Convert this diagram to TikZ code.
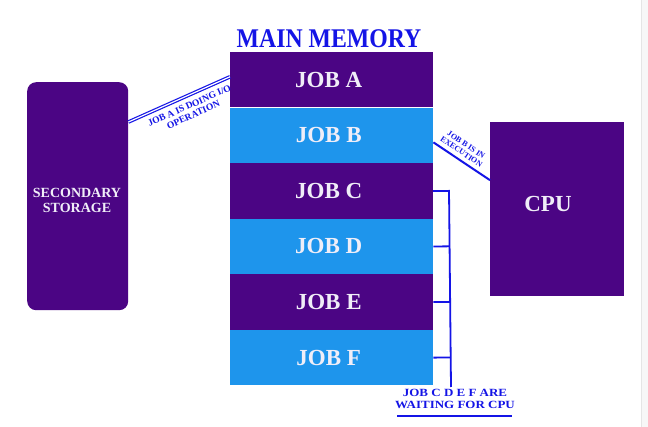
\documentclass[tikz,border=0pt]{standalone}
\usepackage{fontspec}
\setmainfont{Liberation Serif}[BoldFont={Liberation Serif Bold}]
\newfontfamily\tmsbold{Liberation Serif Bold}
\usetikzlibrary{calc}
\definecolor{jobpurple}{RGB}{75,5,132}
\definecolor{jobcyan}{RGB}{30,149,236}
\definecolor{lineblue}{RGB}{20,20,230}
\definecolor{txtwhite}{RGB}{240,238,248}
\tikzset{
  jobbox/.style={draw=none, minimum width=203pt, minimum height=55.17pt, inner sep=0pt,
    text=txtwhite, font=\tmsbold\fontsize{23}{25}\selectfont},
  darkjob/.style={jobbox, fill=jobpurple},
  lightjob/.style={jobbox, fill=jobcyan},
  conn/.style={draw=lineblue, line width=2pt},
  bluelabel/.style={text=lineblue, align=center, inner sep=1pt}
}
\begin{document}
\begin{tikzpicture}[x=1pt,y=-1pt]
\useasboundingbox (0,0) rectangle (648,427);
\fill[white] (0,0) rectangle (648,427);
\fill[black!3] (641,0) rectangle (648,427);
\draw[black!10, line width=0.6pt] (641,0) -- (641,427);

% title
\node[text=lineblue, font=\tmsbold\fontsize{27}{29}\selectfont, inner sep=0pt, anchor=base] (title) at (329,48) {\scalebox{0.88}[1]{MAIN MEMORY}};

% main memory jobs
\node[darkjob, anchor=north west] (jobA) at (230,52) {\hspace*{-6pt}JOB A};
\node[lightjob, anchor=north] (jobB) at (jobA.south) {\hspace*{-6pt}JOB B};
\node[darkjob, anchor=north] (jobC) at (jobB.south) {\hspace*{-6pt}JOB C};
\node[lightjob, anchor=north] (jobD) at (jobC.south) {\hspace*{-6pt}JOB D};
\node[darkjob, anchor=north] (jobE) at (jobD.south) {\hspace*{-6pt}JOB E};
\node[lightjob, anchor=north] (jobF) at (jobE.south) {\hspace*{-6pt}JOB F};

% secondary storage
\node[fill=jobpurple, rounded corners=9pt, minimum width=101pt, minimum height=228pt, inner sep=0pt,
  anchor=north west] (ss) at (27,82) {};
\node[text=txtwhite, align=center, font=\tmsbold\fontsize{14}{15}\selectfont, inner sep=0pt] (sstext) at (77,200)
  {SECONDARY\\STORAGE};

% CPU
\node[fill=jobpurple, minimum width=134pt, minimum height=174pt, inner sep=0pt, anchor=north west] (cpu) at (490,122) {};
\node[text=txtwhite, font=\tmsbold\fontsize{23}{25}\selectfont, inner sep=0pt] (cputext) at (548,204) {CPU};

% I/O connector
\draw[draw=lineblue, double=white, double distance=1.2pt, line width=1.2pt]
  ([yshift=-40pt]ss.north east) -- ([yshift=3pt]jobA.west)
  node[pos=0.56, sloped, below=5pt, bluelabel, font=\tmsbold\fontsize{9.5}{10}\selectfont] (iolabel)
  {JOB A IS DOING I/O\\OPERATION};

% execution connector
\draw[conn] ([yshift=-7pt]jobB.east) -- ([yshift=29pt]cpu.west)
  node[pos=0.42, sloped, above=3pt, bluelabel, font=\tmsbold\fontsize{8}{8.5}\selectfont] (exlabel)
  {JOB B IS IN\\EXECUTION};

% waiting bracket
\node[bluelabel, font=\tmsbold\fontsize{11}{12}\selectfont, anchor=north] (wait) at (455,388)
  {\scalebox{1.18}[1]{JOB C D E F ARE}\\\scalebox{1.18}[1]{WAITING FOR CPU}};
\coordinate (btop) at (449,190);
\coordinate (bbot) at (451,387);
\draw[draw=lineblue, line width=1.8pt] (btop) -- (bbot);
\draw[draw=lineblue, line width=1.8pt] (jobC.east) -- (jobC.east -| btop);
\draw[draw=lineblue, line width=1.8pt] (jobD.east) -- ($(btop)!(jobD.east)!(bbot)$);
\draw[draw=lineblue, line width=1.8pt] (jobE.east) -- ($(btop)!(jobE.east)!(bbot)$);
\draw[draw=lineblue, line width=1.8pt] (jobF.east) -- ($(btop)!(jobF.east)!(bbot)$);
\coordinate (ul1) at (397,416);
\coordinate (ul2) at (512,416);
\draw[draw=lineblue, line width=1.6pt] (ul1) -- (ul2);
\end{tikzpicture}
\end{document}
